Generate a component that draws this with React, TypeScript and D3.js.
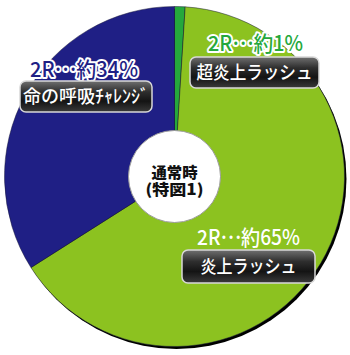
import React from "react";
import * as d3 from "d3";

// Slice order runs clockwise from 12 o'clock.
const categories = ["超炎上ラッシュ", "炎上ラッシュ", "命の呼吸ﾁｬﾚﾝｼﾞ"];
const shares = [1, 65, 34];
const roundLabels = ["2R", "2R", "2R"];
const rateLabels = ["約1%", "約65%", "約34%"];
const centerLines = ["通常時", "(特図1)"];

const sliceColors = ["#25a83c", "#8cc220", "#1f1f85"];
const rateFill = ["#25a83c", "#ffffff", "#1f1f85"];
const rateHalo = [true, false, true];

// Label block placement: rate text centre/baseline, box rect, widths of the two texts
const labelLayout = [
  { cx: 255.5, ry: 51, rw: 95, bx: 190, by: 57, bw: 129, bh: 31, tw: 116 },
  { cx: 248.5, ry: 245, rw: 103, bx: 182, by: 250, bw: 133, bh: 33, tw: 96 },
  { cx: 84, ry: 76.5, rw: 108, bx: 20, by: 81, bw: 132, bh: 31, tw: 126 },
];

const W = 350;
const H = 355;
const CX = 174.5;
const CY = 176.5;
const R = 170;
const INNER = 46;

export default function App() {
  const pie = d3
    .pie<number>()
    .sort(null)
    .value((d) => d)
    .startAngle(0)
    .endAngle(2 * Math.PI);
  const arcs = pie(shares);
  const arc = d3.arc<d3.PieArcDatum<number>>().innerRadius(0).outerRadius(R);

  return (
    <svg
      width={W}
      height={H}
      viewBox={`0 0 ${W} ${H}`}
      style={{ position: "absolute", left: 0, top: 0, background: "#fff" }}
      fontFamily="'Noto Sans CJK JP', 'Noto Sans', sans-serif"
    >
      <defs>
        <linearGradient id="boxFill" x1="0" y1="0" x2="0" y2="1">
          <stop offset="0" stopColor="#707070" />
          <stop offset="0.35" stopColor="#2e2e2e" />
          <stop offset="0.65" stopColor="#141414" />
          <stop offset="1" stopColor="#3a3a3a" />
        </linearGradient>
      </defs>

      {/* drop shadow behind the pie */}
      <circle cx={CX + 2} cy={CY + 2.5} r={R} fill="#000" />

      <g transform={`translate(${CX},${CY})`}>
        {arcs.map((a, i) => (
          <path
            key={categories[i]}
            d={arc(a) || ""}
            fill={sliceColors[i]}
            stroke="#1a1a3a"
            strokeWidth={0.5}
          />
        ))}
        <circle r={INNER} fill="#fff" stroke="#9a9a9a" strokeWidth={1} />
        <text textAnchor="middle" fontWeight={900} fontSize={15} fill="#111">
          <tspan x={0} y={1.5} textLength={46} lengthAdjust="spacingAndGlyphs">
            {centerLines[0]}
          </tspan>
          <tspan x={0} y={18.5} textLength={58} lengthAdjust="spacingAndGlyphs">
            {centerLines[1]}
          </tspan>
        </text>
      </g>

      {labelLayout.map((L, i) => (
        <g key={categories[i] + "-label"}>
          <text
            x={L.cx}
            y={L.ry}
            textAnchor="middle"
            fontSize={21}
            fontWeight={500}
            fill={rateFill[i]}
            stroke={rateHalo[i] ? "#fff" : "none"}
            strokeWidth={rateHalo[i] ? 4 : 0}
            strokeLinejoin="round"
            paintOrder="stroke"
            textLength={L.rw}
            lengthAdjust="spacingAndGlyphs"
          >
            {roundLabels[i]}
            <tspan dy={-6}>…</tspan>
            <tspan dy={6}>{rateLabels[i]}</tspan>
          </text>
          <rect
            x={L.bx}
            y={L.by}
            width={L.bw}
            height={L.bh}
            rx={6}
            fill="url(#boxFill)"
            stroke="#d8d8d8"
            strokeWidth={1.5}
          />
          <text
            x={L.bx + L.bw / 2}
            y={L.by + L.bh / 2 + 6.5}
            textAnchor="middle"
            fontSize={18}
            fontWeight={500}
            fill="#fff"
            textLength={L.tw}
            lengthAdjust="spacingAndGlyphs"
          >
            {categories[i]}
          </text>
        </g>
      ))}
    </svg>
  );
}
